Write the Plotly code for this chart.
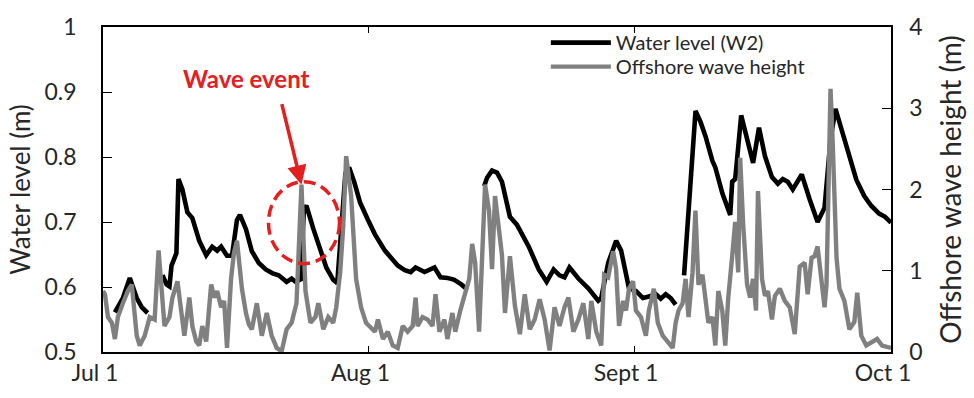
import plotly.graph_objects as go

# Time axis in days since 1 July; water level at W2 (m), None marks missing records
level_day = [1.39, 2.32, 3.13, 3.94, 4.52, 5.21, 6.0, 6.95, 7.42, 7.76, 8.0, 8.57, 8.81,
             9.27, 9.85, 10.43, 11.24, 12.05, 12.75, 13.33, 13.79, 14.48, 15.06, 15.64,
             15.99, 16.69, 17.38, 18.19, 19.0, 19.81, 20.51, 21.44, 22.02, 22.48, 23.1,
             23.45, 23.75, 24.57, 25.38, 26.07, 26.88, 27.35, 28.3, 28.74, 29.32, 30.01,
             30.94, 31.75, 32.91, 34.41, 35.23, 35.92, 36.5, 37.54, 38.7, 39.4, 40.21,
             41.02, 41.83, 42.53, 43.5, 44.5, 44.84, 45.42, 46.0, 46.58, 47.51, 48.32,
             49.71, 50.87, 51.8, 52.61, 53.3, 53.88, 54.46, 55.5, 56.66, 57.82, 58.17,
             58.98, 59.91, 60.49, 61.07, 61.41, 62.22, 63.04, 63.96, 64.54, 65.12, 65.7,
             66.28, 66.86, 67.3, 67.84, 69.18, 69.76, 70.34, 71.15, 71.49, 72.31, 73.23,
             73.46, 73.81, 74.51, 75.2, 75.9, 76.59, 77.29, 78.1, 78.79, 79.37, 79.95,
             80.53, 81.58, 82.5, 83.43, 84.24, 84.94, 85.52, 86.21, 87.14, 87.95, 88.88,
             89.69, 90.61, 91.31, 92.0]
level_m = [0.561, 0.583, 0.614, 0.583, 0.569, 0.560, None, 0.618, 0.604, 0.601, 0.633,
           0.652, 0.766, 0.750, 0.715, 0.706, 0.671, 0.649, 0.662, 0.656, 0.662, 0.648,
           0.648, 0.703, 0.711, 0.689, 0.655, 0.637, 0.627, 0.621, 0.618, 0.608, 0.613,
           0.608, 0.612, 0.720, 0.725, 0.689, 0.656, 0.630, 0.611, 0.606, 0.775, 0.784,
           0.762, 0.730, 0.703, 0.681, 0.656, 0.633, 0.626, 0.623, 0.630, 0.623, 0.630,
           0.615, 0.614, 0.611, 0.604, 0.596, None, 0.755, 0.768, 0.779, 0.776, 0.762,
           0.708, 0.696, 0.662, 0.627, 0.608, 0.627, 0.618, 0.615, 0.630, 0.613, 0.598,
           0.579, 0.583, 0.637, 0.671, 0.656, 0.618, 0.598, 0.594, 0.583, 0.586, 0.589,
           0.582, 0.589, 0.583, 0.573, None, 0.618, 0.871, 0.854, 0.832, 0.794, 0.784,
           0.744, 0.711, 0.762, 0.766, 0.864, 0.827, 0.791, 0.845, 0.801, 0.769, 0.759,
           0.766, 0.762, 0.750, 0.773, 0.735, 0.700, 0.722, 0.827, 0.874, 0.842, 0.798,
           0.765, 0.740, 0.725, 0.713, 0.708, 0.699]

# Offshore significant wave height (m)
wave_day = [0.0, 0.23, 0.58, 1.04, 1.39, 1.74, 2.32, 2.9, 3.36, 3.59, 3.94, 4.29, 4.87,
            5.45, 6.03, 6.49, 6.84, 7.18, 7.76, 8.11, 8.69, 9.15, 9.5, 10.08, 10.43,
            10.89, 11.24, 11.59, 12.05, 12.63, 12.98, 13.33, 13.79, 14.14, 14.48, 14.95,
            15.29, 15.64, 16.22, 16.69, 17.03, 17.38, 17.96, 18.54, 19.12, 19.7, 20.28,
            20.86, 21.44, 22.02, 22.59, 23.17, 23.64, 24.22, 24.8, 25.14, 25.72, 26.3,
            26.88, 27.23, 27.69, 28.04, 28.39, 28.97, 29.55, 30.13, 30.71, 31.75, 32.1,
            32.68, 33.25, 33.83, 34.41, 34.99, 35.57, 36.15, 36.5, 36.73, 37.31, 37.89,
            38.47, 38.82, 39.28, 39.86, 40.21, 40.79, 41.13, 41.71, 42.29, 42.76, 43.1,
            43.45, 43.91, 44.26, 44.61, 45.07, 45.42, 45.77, 46.23, 46.58, 46.93, 47.51,
            48.09, 48.67, 49.24, 49.82, 50.4, 50.98, 51.56, 52.14, 52.72, 53.3, 53.88,
            54.34, 54.92, 55.5, 56.08, 56.66, 57.01, 57.59, 58.17, 58.51, 58.98, 59.56,
            59.91, 60.25, 60.72, 61.06, 61.41, 61.88, 62.22, 62.8, 63.38, 63.73, 64.31,
            64.77, 65.35, 65.93, 66.51, 66.86, 67.2, 67.67, 68.02, 68.36, 68.83, 69.17,
            69.52, 69.99, 70.33, 70.68, 71.15, 71.49, 71.84, 72.3, 72.65, 73.0, 73.46,
            73.81, 74.16, 74.39, 74.74, 75.2, 75.55, 75.89, 76.24, 76.47, 76.94, 77.29,
            77.63, 78.1, 78.44, 79.02, 79.6, 80.18, 80.76, 81.34, 81.92, 82.27, 82.73,
            83.08, 83.43, 83.89, 84.24, 84.47, 84.94, 85.17, 85.64, 85.98, 86.56, 87.14,
            87.72, 88.06, 88.53, 89.11, 89.8, 90.38, 90.96, 91.77, 92.0]
wave_m = [0.75, 0.71, 0.43, 0.36, 0.16, 0.43, 0.60, 0.75, 0.83, 0.55, 0.20, 0.08, 0.20,
          0.43, 0.40, 1.25, 0.71, 0.32, 0.43, 0.67, 0.87, 0.51, 0.20, 0.67, 0.32, 0.13,
          0.08, 0.32, 0.13, 0.83, 0.67, 0.75, 0.55, 0.63, 0.05, 0.90, 1.22, 1.37, 0.78,
          0.48, 0.34, 0.28, 0.60, 0.20, 0.48, 0.20, 0.05, 0.01, 0.28, 0.36, 0.60, 2.06,
          0.75, 0.36, 0.43, 0.60, 0.28, 0.43, 0.36, 0.55, 0.98, 1.53, 2.41, 1.92, 0.90,
          0.55, 0.36, 0.25, 0.40, 0.16, 0.25, 0.08, 0.05, 0.32, 0.25, 0.32, 0.67, 0.32,
          0.43, 0.40, 0.32, 0.71, 0.25, 0.40, 0.16, 0.48, 0.25, 0.51, 0.71, 0.90, 1.33,
          1.10, 0.25, 1.33, 2.06, 1.74, 1.02, 1.92, 1.51, 1.19, 0.48, 1.18, 0.57, 0.22,
          0.71, 0.28, 0.40, 0.65, 0.40, 0.02, 0.55, 0.32, 0.55, 0.67, 0.25, 0.40, 0.60,
          0.16, 0.63, 0.25, 0.08, 0.95, 0.92, 1.24, 1.02, 0.32, 0.63, 0.51, 0.78, 0.87,
          0.51, 0.43, 0.20, 0.51, 0.78, 0.36, 0.20, 0.13, 0.05, 0.36, 0.51, 0.60, 0.90,
          0.43, 0.98, 1.74, 0.83, 0.95, 0.60, 0.36, 0.43, 0.08, 0.75, 0.51, 0.08, 0.67,
          1.18, 1.60, 0.98, 2.39, 1.57, 0.83, 0.67, 0.90, 0.51, 1.98, 0.90, 0.69, 0.75,
          0.40, 0.69, 0.78, 0.63, 0.55, 0.22, 1.05, 1.10, 0.71, 1.16, 1.18, 1.30, 0.87,
          0.55, 0.83, 3.24, 2.65, 1.16, 0.78, 0.63, 0.28, 0.37, 0.73, 0.20, 0.08, 0.13,
          0.16, 0.08, 0.05, 0.05]

month_ticks = [0, 31, 62, 92]
month_labels = ["Jul 1", "Aug 1", "Sept 1", "Oct 1"]

series_names = ["Water level (W2)", "Offshore wave height"]
event_label = "Wave event"

FONT = "Lato"
INK = "#262626"
RED = "#e3201f"

# the highlighted wave event: first wave peak in late July
event_i = max(range(len(wave_day)), key=lambda i: wave_m[i] if 20 < wave_day[i] < 26 else -1)
event_day, event_h = wave_day[event_i], wave_m[event_i]

fig = go.Figure()
fig.add_trace(go.Scatter(x=level_day, y=level_m, name=series_names[0], mode="lines",
                         line=dict(color="#000000", width=4.6), yaxis="y",
                         legend="legend"))
fig.add_trace(go.Scatter(x=wave_day, y=wave_m, name=series_names[1], mode="lines",
                         line=dict(color="#808080", width=4.4), yaxis="y2",
                         legend="legend2"))

axis_common = dict(showgrid=False, zeroline=False, ticks="inside", tickcolor="#000",
                   linecolor="#000", linewidth=1.5, showline=True,
                   tickfont=dict(family=FONT, size=23, color=INK))

# one legend box per series so the two rows can sit close together
legend_common = dict(x=0.562, xanchor="left", yanchor="middle", bgcolor="rgba(0,0,0,0)",
                     font=dict(family=FONT, size=20, color=INK), itemwidth=60)

fig.update_layout(
    width=974, height=398,
    margin=dict(l=103, r=77, t=22, b=34),
    paper_bgcolor="white", plot_bgcolor="white",
    font=dict(family=FONT, color=INK),
    xaxis=dict(range=[0, 92], tickvals=month_ticks, ticktext=month_labels,
               mirror="ticks", ticklen=6, ticklabelshift=-8, **axis_common),
    yaxis=dict(range=[0.5, 1], dtick=0.1, mirror=True, ticklen=9,
               ticklabelstandoff=20,
               title=dict(text="Water level (m)", font=dict(family=FONT, size=26, color=INK),
                          standoff=6),
               **axis_common),
    yaxis2=dict(range=[0, 4], dtick=1, overlaying="y", side="right", ticklen=9,
                ticklabelstandoff=12,
                title=dict(text="Offshore wave height (m)",
                           font=dict(family=FONT, size=28, color=INK), standoff=20),
                **axis_common),
    legend=dict(y=0.952, **legend_common),
    legend2=dict(y=0.878, **legend_common),
    showlegend=True,
)

# arrow pointing at the event peak
fig.add_annotation(x=event_day, y=event_h, xref="x", yref="y2", ax=-20, ay=-82,
                   showarrow=True, arrowhead=2, arrowsize=1.1, arrowwidth=3.5,
                   arrowcolor=RED, text="")
fig.add_annotation(x=event_day, y=event_h, xref="x", yref="y2", xshift=-55, yshift=106,
                   text="<b>%s</b>" % event_label, showarrow=False,
                   font=dict(family=FONT, size=24, color=RED))
# dashed ring around the event
fig.add_shape(type="circle", xref="x", yref="y2", xsizemode="pixel", ysizemode="pixel",
              xanchor=event_day, yanchor=event_h, x0=-33, x1=38, y0=-79, y1=3,
              line=dict(color=RED, width=3.5, dash="12px,6px"))

fig.write_html("out.html")
